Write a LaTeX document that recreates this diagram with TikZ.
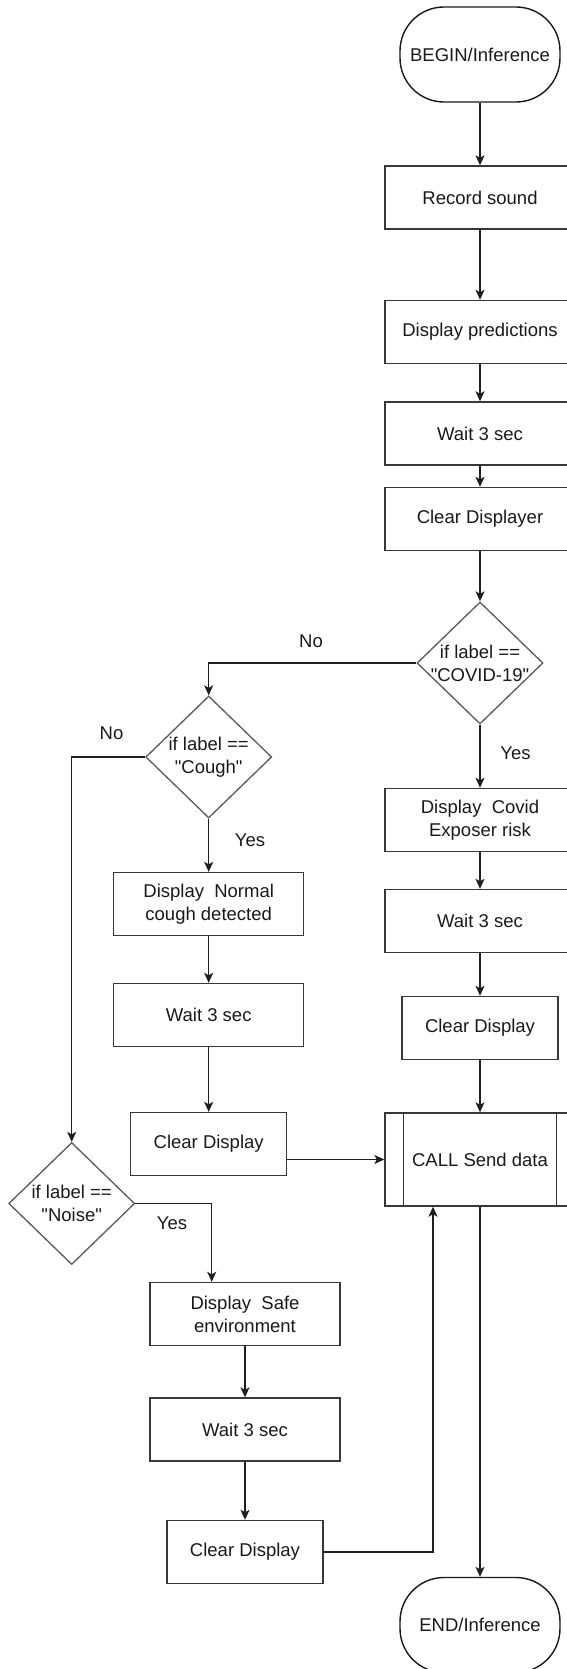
\documentclass[tikz,border=0pt]{standalone}
\usepackage{fontspec}
\setmainfont{Liberation Sans}[Ligatures=TeXOff]
\usetikzlibrary{shapes.geometric,arrows.meta,calc}
\begin{document}
\begin{tikzpicture}[x=1pt,y=-1pt,
  every node/.style={font=\fontsize{18.5}{23}\selectfont, text=black!90},
  box/.style={draw=black!78, line width=1.4pt, inner sep=0pt, align=center},
  proc/.style={box, minimum width=190pt, minimum height=63pt},
  procs/.style={box, minimum width=156pt, minimum height=63pt},
  callbox/.style={box, minimum width=190pt, minimum height=93pt},
  term/.style={box, draw=black!90, rounded corners=44pt, minimum width=160pt, minimum height=95pt},
  dia/.style={shape=diamond, draw=black!65, line width=1.3pt, inner sep=0pt, minimum width=126pt, minimum height=122pt},
  dtext/.style={align=center, inner sep=0pt},
  lbl/.style={inner sep=0pt},
  arr/.style={draw=black!88, line width=1.3pt, -{Stealth[length=10pt,width=9pt,inset=2.5pt]}},
  ln/.style={draw=black!80, line width=1.3pt}
]
\useasboundingbox (0,0) rectangle (567,1669);
\clip (0,0) rectangle (567,1669);

% right column
\node[term] (begin) at (480,54.5) {BEGIN/Inference};
\node[proc] (rec) at (480,197.5) {Record sound};
\node[proc] (pred) at (480,332) {Display predictions};
\node[proc] (w1) at (480,433.5) {Wait 3 sec};
\node[proc] (cd1) at (480,519) {Clear Displayer};
\node[dia] (covid) at (480,663) {};
\node[dtext] (covidt) at (480,663) {if label ==\\"COVID-19"};
\node[proc] (dcov) at (480,820) {Display\ \ Covid\\Exposer risk};
\node[proc] (w2) at (480,921) {Wait 3 sec};
\node[procs] (cd2) at (480,1028) {Clear Display};
\node[callbox] (call) at (480,1159.5) {CALL Send data};
\draw[ln] ([xshift=19pt]call.north west) -- ([xshift=19pt]call.south west);
\draw[ln] ([xshift=-19pt]call.north east) -- ([xshift=-19pt]call.south east);
\node[term] (end) at (480,1625) {END/Inference};

% cough branch
\node[dia] (cough) at (208.7,757) {};
\node[dtext] (cought) at (208.7,757) {if label ==\\"Cough"};
\node[proc] (dnorm) at (208.7,904) {Display\ \ Normal\\cough detected};
\node[proc] (w3) at (208.7,1015) {Wait 3 sec};
\node[procs] (cd3) at (208.7,1144) {Clear Display};

% noise branch
\node[dia] (noise) at (71.7,1203.5) {};
\node[dtext] (noiset) at (71.7,1203.5) {if label ==\\"Noise"};
\node[proc] (dsafe) at (245,1314) {Display\ \ Safe\\environment};
\node[proc] (w4) at (245,1429.5) {Wait 3 sec};
\node[procs] (cd4) at (245,1552) {Clear Display};

% labels
\node[lbl] (no1) at (311,641) {No};
\node[lbl] (yes1) at (515.5,753) {Yes};
\node[lbl] (no2) at (111.5,733) {No};
\node[lbl] (yes2) at (250,840) {Yes};
\node[lbl] (yes3) at (172,1223) {Yes};

% connectors
\draw[arr] (begin) -- (rec);
\draw[arr] (rec) -- (pred);
\draw[arr] (pred) -- (w1);
\draw[arr] (w1) -- (cd1);
\draw[arr] (cd1) -- (covid);
\draw[arr] (covid.west) -| (cough.north);
\draw[arr] (covid) -- (dcov);
\draw[arr] (dcov) -- (w2);
\draw[arr] (w2) -- (cd2);
\draw[arr] (cd2) -- (call);
\draw[arr] (cough) -- (dnorm);
\draw[arr] (dnorm) -- (w3);
\draw[arr] (w3) -- (cd3);
\draw[arr] (cd3.east |- call.west) -- (call.west);
\draw[arr] (cough.west) -| (noise.north);
\coordinate (nj) at (211.7,1203.5);
\draw[arr] (noise.east) -- (nj) -- (nj |- dsafe.north);
\draw[arr] (dsafe) -- (w4);
\draw[arr] (w4) -- (cd4);
\coordinate (rj) at (433,1552);
\draw[arr] (cd4.east) -- (rj) -- (rj |- call.south);
\draw[arr] (call) -- (end);
\end{tikzpicture}
\end{document}
